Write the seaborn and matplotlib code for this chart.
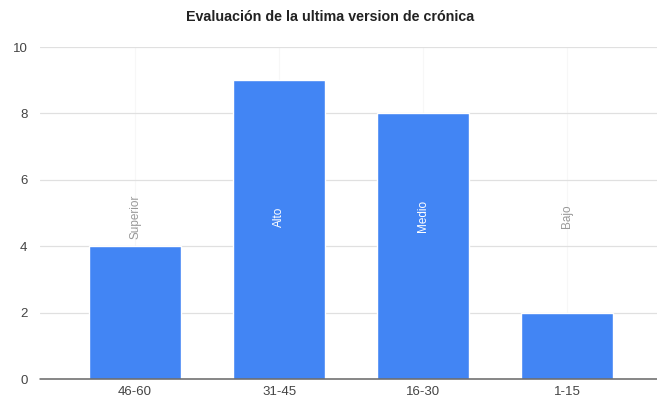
import matplotlib
matplotlib.use("Agg")
import matplotlib.pyplot as plt
import seaborn as sns
import pandas as pd

categories = ["46-60", "31-45", "16-30", "1-15"]
values = [4, 9, 8, 2]
level_labels = ["Superior", "Alto", "Medio", "Bajo"]
y_ticks = [0, 2, 4, 6, 8, 10]
title = "Evaluación de la ultima version de crónica"

sns.set_theme(style="white")
plt.rcParams["font.family"] = ["Liberation Sans", "DejaVu Sans"]

df = pd.DataFrame({"rango": categories, "valor": values})

fig = plt.figure(figsize=(6.57, 4.03), dpi=100)
ax = fig.add_axes([40 / 657, 24 / 403, 617 / 657, 332 / 403])

sns.barplot(data=df, x="rango", y="valor", color="#4285F4", saturation=1,
            width=0.64, ax=ax, zorder=3)

ax.set_xlim(-0.66, 3.625)
ax.set_ylim(0, 10)
ax.set_yticks(y_ticks)
ax.set_yticklabels([str(t) for t in y_ticks])
ax.set_xlabel("")
ax.set_ylabel("")

for x in range(len(categories)):
    ax.axvline(x, color="#f7f7f7", lw=0.8, zorder=0)
for t in y_ticks[1:]:
    ax.axhline(t, color="#e0e0e0", lw=0.9, zorder=1)
ax.axhline(0, color="#666666", lw=1.1, zorder=4, clip_on=False)

for s in ax.spines.values():
    s.set_visible(False)
ax.tick_params(axis="both", length=0, labelsize=9.5, colors="#444444")
ax.tick_params(axis="y", pad=9)
ax.tick_params(axis="x", pad=5)

label_y = 4.9
for i, (lab, v) in enumerate(zip(level_labels, values)):
    inside = v > label_y + 1
    ax.text(i, label_y, lab, rotation=90, ha="center", va="center",
            fontsize=8.5, color="white" if inside else "#999999", zorder=5)

fig.text(330 / 657, 1 - 17 / 403, title, ha="center", va="center",
         fontsize=10.3, fontweight="bold", color="#222222")

fig.savefig("out.png", dpi=100)
